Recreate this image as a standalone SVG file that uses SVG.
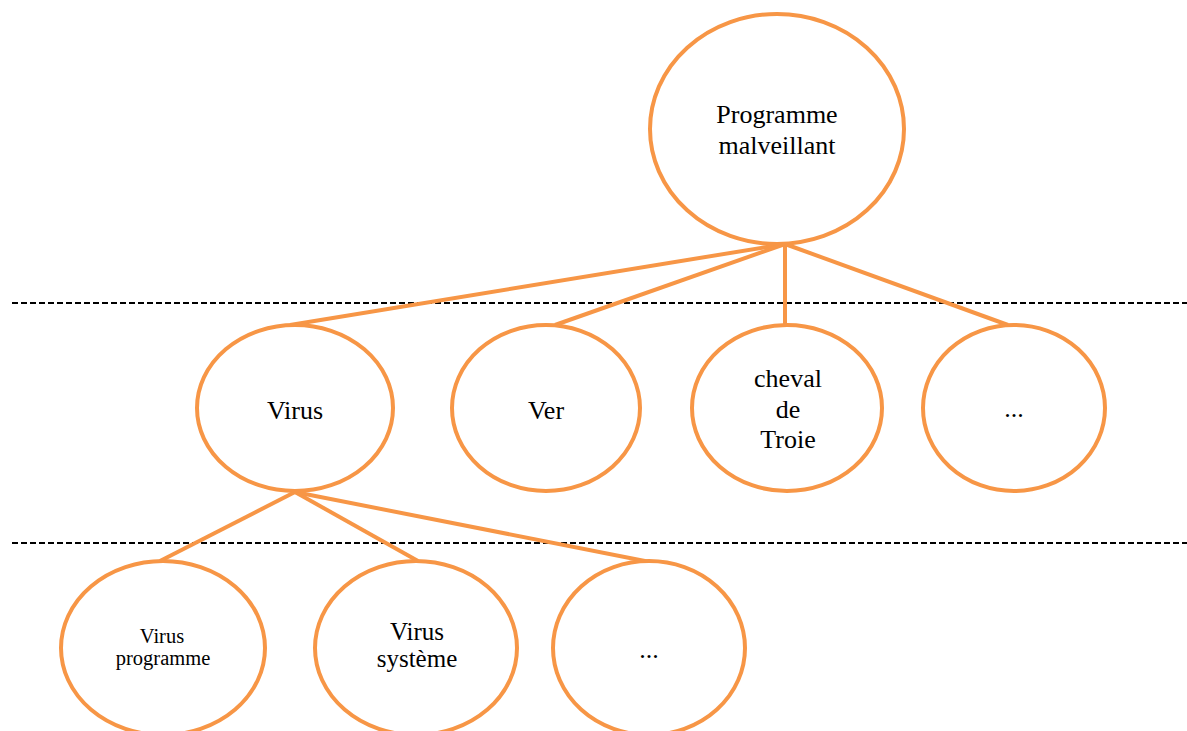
<svg xmlns="http://www.w3.org/2000/svg" width="1187" height="731" viewBox="0 0 1187 731">
<style>
.n{fill:#fff;stroke:#F79646;stroke-width:4}
.c line{stroke:#F79646;stroke-width:4}
.d{stroke:#000;stroke-width:2;stroke-dasharray:6 3}
.t{font-size:26px}
.m{font-size:25px}
.s{font-size:20.5px}
</style>
<rect width="1187" height="731" fill="#fff"/>
<line class="d" x1="12" y1="303" x2="1187" y2="303"/>
<line class="d" x1="12" y1="543" x2="1187" y2="543"/>
<g class="c">
<line x1="785" y1="244" x2="290" y2="325"/>
<line x1="785" y1="244" x2="555" y2="325"/>
<line x1="785" y1="244" x2="785" y2="325"/>
<line x1="785" y1="244" x2="1008" y2="325"/>
<line x1="295" y1="492" x2="160" y2="561"/>
<line x1="295" y1="492" x2="418" y2="561"/>
<line x1="295" y1="492" x2="650" y2="562"/>
</g>
<g font-family="'Liberation Serif', 'Times New Roman', serif" text-anchor="middle" fill="#000">
<g id="programme"><ellipse class="n" cx="777" cy="129" rx="127" ry="115"/><text class="t" x="777" y="123">Programme</text><text class="t" x="777" y="154">malveillant</text></g>
<g id="virus"><ellipse class="n" cx="295" cy="408" rx="98" ry="83"/><text class="t" x="295" y="419">Virus</text></g>
<g id="ver"><ellipse class="n" cx="546" cy="408" rx="94" ry="83"/><text class="t" x="546" y="419">Ver</text></g>
<g id="cheval"><ellipse class="n" cx="787" cy="408" rx="95" ry="83"/><text class="t" x="788" y="387">cheval</text><text class="t" x="788" y="418">de</text><text class="t" x="788" y="448">Troie</text></g>
<g id="autres1"><ellipse class="n" cx="1014" cy="408" rx="91" ry="83"/><text class="t" x="1014" y="417">...</text></g>
<g id="virusprog"><ellipse class="n" cx="163" cy="648" rx="102" ry="87"/><text class="s" x="162" y="643">Virus</text><text class="s" x="163" y="665">programme</text></g>
<g id="virussys"><ellipse class="n" cx="416" cy="648" rx="101" ry="87"/><text class="m" x="417" y="640">Virus</text><text class="m" x="417" y="667">système</text></g>
<g id="autres2"><ellipse class="n" cx="649" cy="648" rx="96" ry="87"/><text class="t" x="649" y="658">...</text></g>
</g>
</svg>
